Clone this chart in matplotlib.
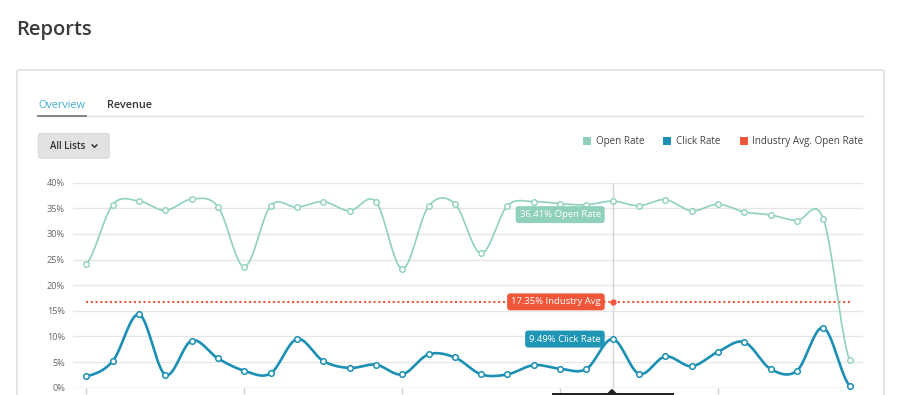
import numpy as np
import matplotlib
matplotlib.use("Agg")
import matplotlib.pyplot as plt
from matplotlib.patches import FancyBboxPatch, Rectangle, Polygon
from matplotlib.lines import Line2D

plt.rcParams['font.family'] = ['Open Sans', 'DejaVu Sans']

# ---------------- data ----------------
open_rate = [24.1, 35.7, 36.4, 34.6, 36.8, 35.3, 23.6, 35.5, 35.2, 36.3,
             34.5, 36.3, 23.2, 35.4, 35.9, 26.2, 35.5, 36.3, 35.9, 35.7,
             36.41, 35.5, 36.7, 34.5, 35.8, 34.3, 33.7, 32.6, 33.0, 5.35]
click_rate = [2.2, 5.2, 14.3, 2.5, 9.2, 5.7, 3.3, 2.8, 9.5, 5.2,
              3.85, 4.5, 2.6, 6.5, 5.9, 2.6, 2.6, 4.4, 3.7, 3.65,
              9.49, 2.7, 6.1, 4.2, 7.0, 8.9, 3.65, 3.3, 11.7, 0.4]
industry_avg = 16.75
y_ticks = [0, 5, 10, 15, 20, 25, 30, 35, 40]
y_tick_labels = ["0%", "5%", "10%", "15%", "20%", "25%", "30%", "35%", "40%"]
x_tick_idx = [0, 6, 12, 18, 24]
hover_idx = 20
legend_labels = ["Open Rate", "Click Rate", "Industry Avg. Open Rate"]
tooltip_texts = ["36.41% Open Rate", "17.35% Industry Avg", "9.49% Click Rate"]

C_OPEN = "#8fd1bb"
C_CLICK = "#1b8fb4"
C_IND = "#f0573a"

W, H = 903, 395
fig = plt.figure(figsize=(W / 100, H / 100), dpi=100)
fig.patch.set_facecolor("white")


def fx(px):
    return px / W


def fy(py):
    return 1 - py / H


def catmull(y, n=20):
    y = np.asarray(y, float)
    N = len(y)
    m = np.zeros(N)
    m[1:-1] = (y[2:] - y[:-2]) / 2
    m[0] = (y[1] - y[0]) / 2
    m[-1] = (y[-1] - y[-2]) / 2
    xs, ys = [], []
    t = np.linspace(0, 1, n, endpoint=False)
    h00 = 2 * t**3 - 3 * t**2 + 1
    h10 = t**3 - 2 * t**2 + t
    h01 = -2 * t**3 + 3 * t**2
    h11 = t**3 - t**2
    for i in range(N - 1):
        xs.append(i + t)
        ys.append(h00 * y[i] + h10 * m[i] + h01 * y[i + 1] + h11 * m[i + 1])
    xs.append([N - 1])
    ys.append([y[-1]])
    return np.concatenate(xs), np.concatenate(ys)


# ---------------- page chrome ----------------
fig.text(fx(16), fy(35), "Reports", fontsize=14.5, color="#3a3a3a",
         weight="semibold", ha="left", va="baseline")

card = FancyBboxPatch((fx(17), fy(420)), fx(884 - 17), (420 - 70) / H,
                      boxstyle="round,pad=0,rounding_size=0.003",
                      transform=fig.transFigure, facecolor="white",
                      edgecolor="#d9d9d9", lw=1.0, zorder=-5)
fig.patches.append(card)

fig.text(fx(38), fy(108.5), "Overview", fontsize=7.8, color="#3fb0d0",
         ha="left", va="baseline")
fig.text(fx(106.7), fy(108.5), "Revenue", fontsize=7.8, color="#333333",
         weight="semibold", ha="left", va="baseline")
fig.add_artist(Line2D([fx(38), fx(862.7)], [fy(116.3), fy(116.3)],
                      transform=fig.transFigure, color="#dddddd", lw=1))
fig.add_artist(Line2D([fx(38), fx(86)], [fy(116.3), fy(116.3)],
                      transform=fig.transFigure, color="#7a7a7a", lw=1.3))

btn = FancyBboxPatch((fx(38.3), fy(158.3)), fx(109.3 - 38.3), (158.3 - 133.3) / H,
                     boxstyle="round,pad=0,rounding_size=0.004",
                     transform=fig.transFigure, facecolor="#e2e2e2",
                     edgecolor="#d6d6d6", lw=0.6, zorder=-4)
fig.patches.append(btn)
fig.text(fx(50.5), fy(146.5), "All Lists", fontsize=6.9, color="#333333",
         weight="semibold", ha="left", va="center")
fig.add_artist(Line2D([fx(92.2), fx(94.5), fx(96.8)], [fy(145), fy(147.3), fy(145)],
                      transform=fig.transFigure, color="#333333", lw=1.1))

# legend
for sq_x, txt_x, col, lab in zip([582.7, 663.3, 740], [595.7, 676, 752.3],
                                 [C_OPEN, C_CLICK, C_IND], legend_labels):
    fig.patches.append(Rectangle((fx(sq_x), fy(145)), fx(8), 8 / H,
                                 transform=fig.transFigure, facecolor=col,
                                 edgecolor="none"))
    fig.text(fx(txt_x), fy(141.5), lab, fontsize=7.1, color="#444444",
             ha="left", va="center")

# ---------------- chart ----------------
ax = fig.add_axes([fx(73.3), fy(387.7), fx(862.7 - 73.3), (387.7 - 182.7) / H])
ax.set_zorder(2)
ax.set_xlim(-0.5, 29.5)
ax.set_ylim(0, 40)
for s in ax.spines.values():
    s.set_visible(False)
ax.set_facecolor("none")

for v in y_ticks:
    ax.axhline(v, color="#e6e6e6" if v > 0 else "#cccccc", lw=1.0, zorder=0)
ax.set_yticks(y_ticks)
ax.set_yticklabels(y_tick_labels)
ax.tick_params(axis="y", length=0, pad=6, labelsize=6.6, labelcolor="#666666")
ax.set_xticks(x_tick_idx)
ax.set_xticklabels([])
ax.tick_params(axis="x", length=4, width=1, color="#cccccc", direction="out")

# crosshair
ax.plot([hover_idx, hover_idx], [0, 40], color="#d5d5d5", lw=1, zorder=1)

x = np.arange(len(open_rate))
sx, sy = catmull(open_rate)
ax.plot(sx, sy, color=C_OPEN, lw=1.2, zorder=3, clip_on=False)
ax.plot(x, open_rate, ls="none", marker="o", ms=4, mfc="white", mec=C_OPEN,
        mew=1.0, zorder=4, clip_on=False)

cx, cy = catmull(click_rate)
ax.plot(cx, cy, color=C_CLICK, lw=1.9, zorder=3, clip_on=False)
ax.plot(x, click_rate, ls="none", marker="o", ms=4, mfc="white", mec=C_CLICK,
        mew=1.1, zorder=4, clip_on=False)

ax.plot([0, len(open_rate) - 1], [industry_avg, industry_avg], color=C_IND,
        lw=1.5, ls=(0, (1, 1.3)), zorder=2)
ax.plot([hover_idx], [industry_avg], marker="o", ms=3.5, color=C_IND, zorder=5)

# tooltip boxes
box_specs = [
    (tooltip_texts[0], open_rate[hover_idx], -13.5, "#8fd1bb"),
    (tooltip_texts[1], industry_avg, 0, C_IND),
    (tooltip_texts[2], click_rate[hover_idx], 0, "#1f96b6"),
]
for txt, yv, dy, col in box_specs:
    ax.annotate(txt, xy=(hover_idx, yv), xytext=(-12, dy),
                textcoords="offset pixels", ha="right", va="center",
                fontsize=6.8, color="white", zorder=6,
                bbox=dict(boxstyle="round,pad=0.42,rounding_size=0.3",
                          fc=col, ec="none"))

# bottom dark tooltip (cut off)
fig.patches.append(Rectangle((fx(551.7), fy(400)), fx(674 - 551.7), (400 - 392.7) / H,
                             transform=fig.transFigure, facecolor="#222222",
                             edgecolor="none", zorder=10))
fig.patches.append(Polygon([(fx(607.5), fy(393)), (fx(612), fy(388.7)), (fx(616.5), fy(393))],
                           closed=True, transform=fig.transFigure,
                           facecolor="#222222", edgecolor="none", zorder=10))

fig.savefig("out.png", dpi=100, facecolor="white")
